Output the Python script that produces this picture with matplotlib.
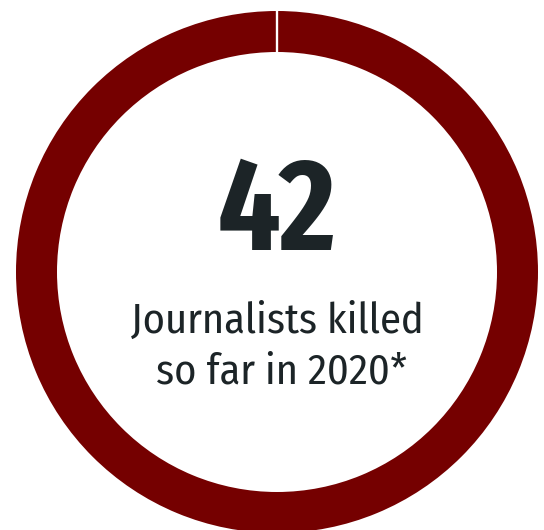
import matplotlib
matplotlib.use("Agg")
import matplotlib.pyplot as plt

# data
killed = [42]
year = 2020
label_lines = ["Journalists killed", " so far in %d*" % year]

ring_color = "#750000"
text_color = "#1c2427"

fig = plt.figure(figsize=(5.44, 5.30), dpi=100)
ax = fig.add_axes([0, 0, 1, 1])

cx, cy, r_out, r_in = 277, 272, 261, 220
ax.pie(killed, colors=[ring_color], radius=r_out, center=(cx, cy),
       startangle=90, wedgeprops=dict(width=r_out - r_in, linewidth=0))
ax.set_xlim(0, 544)
ax.set_ylim(530, 0)
ax.set_aspect("equal")
ax.axis("off")

# small white gap at the top of the ring
ax.plot([cx, cx], [cy - r_out - 2, cy - r_in + 2], color="white", lw=1.7,
        solid_capstyle="butt")

ax.text(cx, 250, str(killed[0]), ha="center", va="baseline",
        fontsize=95, fontweight="bold", family="Fira Sans Extra Condensed",
        color=text_color)
ax.text(cx, 333, label_lines[0], ha="center", va="baseline",
        fontsize=30.5, family="Fira Sans Condensed", color=text_color)
ax.text(cx, 384, label_lines[1], ha="center", va="baseline",
        fontsize=30.5, family="Fira Sans Condensed", color=text_color)

fig.savefig("out.png", dpi=100)
